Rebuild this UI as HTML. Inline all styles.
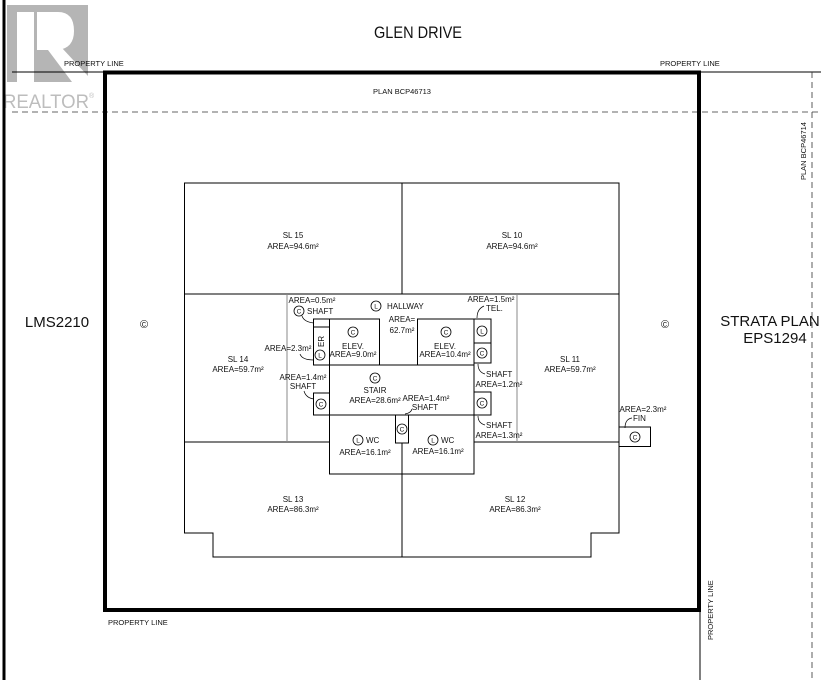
<!DOCTYPE html>
<html><head><meta charset="utf-8"><style>
html,body{margin:0;padding:0;background:#fff;}
svg{display:block;}
text{font-family:"Liberation Sans",sans-serif;fill:#111;}
.s{font-size:8px;}
</style></head><body>
<svg width="821" height="680" viewBox="0 0 821 680" xmlns="http://www.w3.org/2000/svg">
<!-- realtor logo -->
<rect x="7" y="5" width="81" height="77" fill="#b5b5b5"/>
<rect x="17" y="12" width="17" height="70" fill="#fff"/>
<path d="M37 12 H58 Q74 12 74 31 Q74 48 58 50 H37 Z" fill="#fff"/>
<polygon points="48,50 62,48 88,76 88,82 72,82" fill="#fff"/>
<text x="3" y="108" style="font-size:19px;fill:#bdbdbd;" textLength="86" lengthAdjust="spacingAndGlyphs">REALTOR</text>
<text x="89" y="98" style="font-size:7px;fill:#bdbdbd;">®</text>

<!-- site lines -->
<line x1="4" y1="0" x2="4" y2="680" stroke="#000" stroke-width="3"/>
<line x1="12" y1="72" x2="104" y2="72" stroke="#000" stroke-width="1"/>
<line x1="700" y1="72" x2="821" y2="72" stroke="#000" stroke-width="1"/>
<line x1="12" y1="112" x2="821" y2="112" stroke="#333" stroke-width="0.8" stroke-dasharray="6,4"/>
<line x1="812" y1="72" x2="812" y2="680" stroke="#333" stroke-width="0.8" stroke-dasharray="6,4"/>
<line x1="700" y1="610" x2="700" y2="680" stroke="#000" stroke-width="1"/>
<rect x="105" y="72.5" width="594" height="537.5" fill="none" stroke="#000" stroke-width="4"/>

<text x="418" y="38" text-anchor="middle" style="font-size:17px;" textLength="88" lengthAdjust="spacingAndGlyphs">GLEN DRIVE</text>
<text x="64" y="66" class="s" style="font-size:7.5px">PROPERTY LINE</text>
<text x="660" y="66" class="s" style="font-size:7.5px">PROPERTY LINE</text>
<text x="108" y="625" class="s" style="font-size:7.5px">PROPERTY LINE</text>
<text x="402" y="94" text-anchor="middle" class="s" style="font-size:7.5px">PLAN BCP46713</text>
<text transform="translate(806,180) rotate(-90)" class="s" style="font-size:7.5px">PLAN BCP46714</text>
<text transform="translate(713,640) rotate(-90)" class="s" style="font-size:7.5px">PROPERTY LINE</text>
<text x="57" y="327" text-anchor="middle" style="font-size:15px;">LMS2210</text>
<text x="770" y="326" text-anchor="middle" style="font-size:15px;">STRATA PLAN</text>
<text x="775" y="343" text-anchor="middle" style="font-size:15px;">EPS1294</text>
<text x="144" y="328" text-anchor="middle" style="font-size:11px;">©</text>
<text x="665" y="328" text-anchor="middle" style="font-size:11px;">©</text>

<!-- building -->
<g fill="none" stroke="#000" stroke-width="1">
<path d="M184.5 183 H619 V533 H591 V557 H213 V533 H184.5 Z"/>
<line x1="402" y1="183" x2="402" y2="294"/>
<line x1="184.5" y1="294" x2="619" y2="294"/>
<line x1="184.5" y1="442" x2="330" y2="442"/>
<line x1="474" y1="442" x2="619" y2="442"/>
<line x1="402" y1="442" x2="402" y2="557"/>
<rect x="329.5" y="319" width="50" height="46"/>
<rect x="417.5" y="319" width="56.5" height="46"/>
<rect x="313.5" y="319" width="16" height="46"/>
<line x1="313.5" y1="327" x2="329.5" y2="327"/>
<rect x="474" y="319" width="17" height="24"/>
<rect x="474" y="343" width="17" height="20"/>
<rect x="329.5" y="365" width="144.5" height="50"/>
<rect x="313.5" y="393" width="16" height="22"/>
<rect x="474" y="392" width="17" height="23"/>
<rect x="329.5" y="415" width="144.5" height="59"/>
<rect x="395.5" y="415" width="13" height="28" fill="#fff"/>
<rect x="619" y="427" width="31.5" height="19.5"/>
</g>
<g stroke="#888" stroke-width="1">
<line x1="287" y1="294" x2="287" y2="442"/>
<line x1="517" y1="294" x2="517" y2="442"/>
</g>

<!-- labels -->
<g class="s" text-anchor="middle" style="font-size:8px">
<text x="293" y="238">SL 15</text><text x="293" y="249">AREA=94.6m²</text>
<text x="512" y="238">SL 10</text><text x="512" y="249">AREA=94.6m²</text>
<text x="238" y="362">SL 14</text><text x="238" y="372">AREA=59.7m²</text>
<text x="570" y="362">SL 11</text><text x="570" y="372">AREA=59.7m²</text>
<text x="293" y="502">SL 13</text><text x="293" y="512">AREA=86.3m²</text>
<text x="515" y="502">SL 12</text><text x="515" y="512">AREA=86.3m²</text>
<text x="353" y="349">ELEV.</text><text x="353" y="357">AREA=9.0m²</text>
<text x="445" y="349">ELEV.</text><text x="445" y="357">AREA=10.4m²</text>
<text x="375" y="393">STAIR</text><text x="375" y="403">AREA=28.6m²</text>
<text x="365" y="455">AREA=16.1m²</text>
<text x="438" y="454">AREA=16.1m²</text>
<text x="402" y="322">AREA=</text><text x="402" y="333">62.7m²</text>
<text x="312" y="303">AREA=0.5m²</text>
<text x="288" y="351">AREA=2.3m²</text>
<text x="303" y="380">AREA=1.4m²</text><text x="303" y="389">SHAFT</text>
<text x="426" y="401">AREA=1.4m²</text><text x="425" y="410">SHAFT</text>
<text x="491" y="302">AREA=1.5m²</text>
<text x="499" y="387">AREA=1.2m²</text>
<text x="499" y="438">AREA=1.3m²</text>
<text x="643" y="412">AREA=2.3m²</text>
</g>
<g class="s" style="font-size:8px">
<text x="307" y="314">SHAFT</text>
<text x="387" y="309">HALLWAY</text>
<text x="486" y="311">TEL.</text>
<text x="486" y="377">SHAFT</text>
<text x="486" y="428">SHAFT</text>
<text x="366" y="443">WC</text>
<text x="441" y="443">WC</text>
<text x="633" y="421">FIN</text>
<text transform="translate(324,347) rotate(-90)">ER</text>
</g>
<!-- circled symbols -->
<g fill="none" stroke="#000" stroke-width="0.8">
<circle cx="299" cy="311" r="5"/><circle cx="376" cy="306" r="5"/>
<circle cx="353" cy="332" r="5"/><circle cx="446" cy="332" r="5"/>
<circle cx="482" cy="331" r="5"/><circle cx="482" cy="353" r="5"/>
<circle cx="320" cy="355" r="5"/><circle cx="375" cy="378" r="5"/>
<circle cx="321" cy="404" r="5"/><circle cx="482" cy="403" r="5"/>
<circle cx="402" cy="429" r="5"/><circle cx="358" cy="440" r="5"/>
<circle cx="433" cy="440" r="5"/><circle cx="635" cy="437" r="5"/>
</g>
<g class="s" text-anchor="middle" style="font-size:6.5px">
<text x="299" y="313.5">C</text><text x="376" y="308.5">L</text>
<text x="353" y="334.5">C</text><text x="446" y="334.5">C</text>
<text x="482" y="333.5">L</text><text x="482" y="355.5">C</text>
<text x="320" y="357.5">L</text><text x="375" y="380.5">C</text>
<text x="321" y="406.5">C</text><text x="482" y="405.5">C</text>
<text x="402" y="431.5">C</text><text x="358" y="442.5">L</text>
<text x="433" y="442.5">L</text><text x="635" y="439.5">C</text>
</g>
<!-- leader arrows -->
<g fill="none" stroke="#000" stroke-width="0.7">
<path d="M302 316 Q304 322 314 323"/>
<path d="M300 354 Q302 360 314 360"/>
<path d="M304 391 Q306 398 314 399"/>
<path d="M412 409 Q411 413 405 414"/>
<path d="M484 306 Q477 309 477 318"/>
<path d="M485 374 Q478 372 478 364"/>
<path d="M485 425 Q478 423 478 416"/>
<path d="M632 418 Q625 419 625 428"/>
</g>
</svg>
</body></html>
